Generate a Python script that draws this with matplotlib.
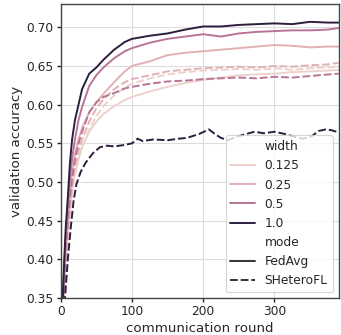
import matplotlib
matplotlib.use("Agg")
import matplotlib.pyplot as plt
import seaborn as sns
import pandas as pd

# ---- data ----
rounds = [0, 1, 3, 5, 7, 10, 13, 16, 20, 25, 30, 40, 50, 60, 75, 90, 100,
          125, 150, 175, 200, 225, 250, 275, 300, 325, 350, 375, 390]

fedavg_1000 = [0.49, 0.30, 0.35, 0.40, 0.44, 0.48, 0.525, 0.555, 0.58, 0.60, 0.62, 0.64, 0.648,
               0.658, 0.671, 0.681, 0.685, 0.689, 0.692, 0.697, 0.701, 0.701, 0.703, 0.704,
               0.705, 0.704, 0.707, 0.706, 0.706]
fedavg_0500 = [0.47, 0.30, 0.34, 0.39, 0.43, 0.47, 0.505, 0.53, 0.555, 0.58, 0.597, 0.624, 0.638,
               0.648, 0.66, 0.669, 0.673, 0.68, 0.685, 0.688, 0.691, 0.688, 0.692, 0.694,
               0.695, 0.696, 0.696, 0.697, 0.699]
fedavg_0250 = [0.51, 0.30, 0.33, 0.37, 0.41, 0.45, 0.48, 0.51, 0.535, 0.555, 0.57, 0.59, 0.603,
               0.614, 0.629, 0.643, 0.65, 0.656, 0.664, 0.667, 0.669, 0.671, 0.673, 0.675,
               0.677, 0.676, 0.674, 0.675, 0.675]
fedavg_0125 = [0.53, 0.30, 0.32, 0.36, 0.40, 0.43, 0.46, 0.49, 0.51, 0.53, 0.545, 0.565, 0.578,
               0.588, 0.598, 0.606, 0.61, 0.617, 0.623, 0.628, 0.632, 0.635, 0.638, 0.639,
               0.64, 0.642, 0.643, 0.644, 0.645]
shetero_0500 = [0.44, 0.30, 0.33, 0.37, 0.41, 0.45, 0.48, 0.505, 0.53, 0.55, 0.565, 0.59, 0.603,
                0.61, 0.615, 0.621, 0.623, 0.627, 0.63, 0.631, 0.633, 0.634, 0.635, 0.634,
                0.636, 0.635, 0.637, 0.639, 0.64]
shetero_0250 = [0.46, 0.30, 0.33, 0.36, 0.40, 0.44, 0.47, 0.495, 0.52, 0.54, 0.555, 0.578, 0.595,
                0.607, 0.62, 0.629, 0.633, 0.638, 0.643, 0.645, 0.647, 0.648, 0.649, 0.648,
                0.65, 0.649, 0.651, 0.652, 0.654]
shetero_0125 = [0.45, 0.30, 0.32, 0.35, 0.39, 0.43, 0.46, 0.485, 0.51, 0.53, 0.545, 0.568, 0.585,
                0.598, 0.612, 0.622, 0.627, 0.634, 0.639, 0.642, 0.644, 0.645, 0.646, 0.645,
                0.647, 0.645, 0.647, 0.648, 0.649]

rounds_sh1 = [0, 1, 3, 6, 10, 14, 18, 22, 28, 35, 45, 55, 65, 75, 90, 100, 108, 115, 130,
              150, 165, 177, 194, 208, 215, 225, 235, 245, 260, 272, 285, 300, 315, 330,
              340, 352, 362, 372, 380, 390]
shetero_1000 = [0.48, 0.28, 0.30, 0.35, 0.40, 0.44, 0.475, 0.497, 0.513, 0.525, 0.537, 0.545,
                0.547, 0.546, 0.548, 0.550, 0.556, 0.553, 0.555, 0.554, 0.556, 0.557, 0.562,
                0.568, 0.563, 0.557, 0.554, 0.558, 0.562, 0.565, 0.563, 0.565, 0.562, 0.558,
                0.556, 0.559, 0.566, 0.568, 0.567, 0.564]

widths = [0.125, 0.25, 0.5, 1.0]
modes = ["FedAvg", "SHeteroFL"]

series = [
    (1.0, "FedAvg", rounds, fedavg_1000),
    (0.5, "FedAvg", rounds, fedavg_0500),
    (0.25, "FedAvg", rounds, fedavg_0250),
    (0.125, "FedAvg", rounds, fedavg_0125),
    (1.0, "SHeteroFL", rounds_sh1, shetero_1000),
    (0.5, "SHeteroFL", rounds, shetero_0500),
    (0.25, "SHeteroFL", rounds, shetero_0250),
    (0.125, "SHeteroFL", rounds, shetero_0125),
]

rows = []
for w, m, xs, ys in series:
    for x, y in zip(xs, ys):
        rows.append({"communication round": x, "validation accuracy": y,
                     "width": w, "mode": m})
df = pd.DataFrame(rows)

sns.set_theme(context="paper", style="ticks")
plt.rcParams["font.family"] = ["DejaVu Sans"]
plt.rcParams["xtick.major.pad"] = 2.0
plt.rcParams["ytick.major.pad"] = 2.0
plt.rcParams["xtick.major.size"] = 3.0
plt.rcParams["ytick.major.size"] = 3.0
plt.rcParams["axes.labelpad"] = 2.5

fig = plt.figure(figsize=(3.41, 3.35), dpi=100)
ax = fig.add_axes([0.178, 0.110, 0.815, 0.878])
sns.lineplot(data=df, x="communication round", y="validation accuracy",
             hue="width", style="mode", style_order=modes,
             legend="full", ax=ax, estimator=None, sort=True, linewidth=1.4)
ax.grid(True, color="#dddddd", linewidth=0.8)
ax.set_axisbelow(True)
ax.set_xlim(0, 390)
ax.set_ylim(0.35, 0.73)
ax.set_xticks([0, 100, 200, 300])
ax.set_yticks([0.35, 0.40, 0.45, 0.50, 0.55, 0.60, 0.65, 0.70])
ax.set_yticklabels(["0.35", "0.40", "0.45", "0.50", "0.55", "0.60", "0.65", "0.70"])
for s in ax.spines.values():
    s.set_color("#444444")
sns.move_legend(ax, "lower right")
fig.savefig("out.png", dpi=100)
